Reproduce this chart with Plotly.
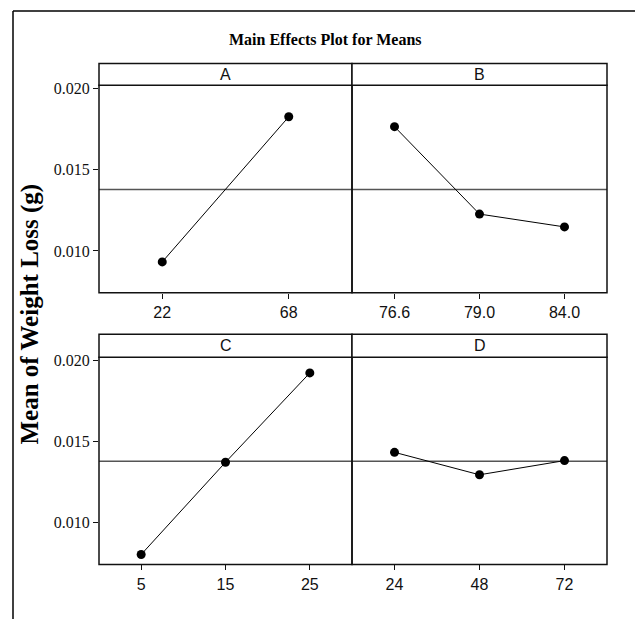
import plotly.graph_objects as go

# ---- data ----
factor_names = ["A", "B", "C", "D"]
A_levels = ["22", "68"]
A_means = [0.00933, 0.01825]
B_levels = ["76.6", "79.0", "84.0"]
B_means = [0.01764, 0.01227, 0.01148]
C_levels = ["5", "15", "25"]
C_means = [0.00805, 0.01372, 0.01921]
D_levels = ["24", "48", "72"]
D_means = [0.01433, 0.01295, 0.01382]
grand_mean = 0.01378
y_tickvals = [0.010, 0.015, 0.020]
y_ticktext = ["0.010", "0.015", "0.020"]
title_text = "Main Effects Plot for Means"
ytitle_text = "Mean of Weight Loss (g)"

W, H = 635, 619
def px(x):
    return x / W
def py(y):
    return 1 - y / H

col_dom = [[px(99), px(352)], [px(352), px(607)]]
row_plot = [[py(290), py(81)], [py(564), py(355)]]
row_strip = [[py(81), py(59)], [py(355), py(332)]]
y_range = [0.00744, 0.02018]

SERIF = "Liberation Serif, Times New Roman, serif"
SANS = "Liberation Sans, Arial, sans-serif"
EDGE = "#111"

panels = [
    (A_levels, A_means, 0, 0),
    (B_levels, B_means, 0, 1),
    (C_levels, C_means, 1, 0),
    (D_levels, D_means, 1, 1),
]

fig = go.Figure()
shapes = []
annotations = []
layout = {}
for i, (levels, means, r, c) in enumerate(panels):
    k = "" if i == 0 else str(i + 1)
    fig.add_trace(go.Scatter(
        x=levels, y=means, xaxis="x" + k, yaxis="y" + k,
        mode="lines+markers",
        line=dict(color="black", width=1),
        marker=dict(color="black", size=9, symbol="circle"),
        showlegend=False, hoverinfo="skip", cliponaxis=False,
    ))
    layout["xaxis" + k] = dict(
        domain=col_dom[c], anchor="y" + k, type="category",
        categoryorder="array", categoryarray=levels,
        range=[-0.5, len(levels) - 0.5],
        showline=False,
        ticks="outside", ticklen=5, tickwidth=1, tickcolor=EDGE,
        tickfont=dict(family=SANS, size=16, color="#111"),
        showgrid=False, zeroline=False, fixedrange=True,
    )
    ya = dict(
        domain=row_plot[r], anchor="x" + k, range=y_range,
        showline=False,
        showgrid=False, zeroline=False, fixedrange=True,
        tickvals=y_tickvals, ticktext=y_ticktext,
    )
    if c == 0:
        ya.update(ticks="outside", ticklen=5, tickwidth=1, tickcolor=EDGE,
                  tickfont=dict(family=SERIF, size=16, color="#111"),
                  showticklabels=True)
    else:
        ya.update(ticks="", showticklabels=False)
    layout["yaxis" + k] = ya
    # grand mean reference line
    shapes.append(dict(type="line", xref="x" + k + " domain", x0=0, x1=1,
                       yref="y" + k, y0=grand_mean, y1=grand_mean,
                       line=dict(color="#555", width=1.5), layer="below"))
    # panel frame
    shapes.append(dict(type="rect", xref="paper", yref="paper",
                       x0=col_dom[c][0], x1=col_dom[c][1],
                       y0=row_plot[r][0], y1=row_plot[r][1],
                       line=dict(color=EDGE, width=1.5)))
    # strip
    shapes.append(dict(type="rect", xref="paper", yref="paper",
                       x0=col_dom[c][0], x1=col_dom[c][1],
                       y0=row_strip[r][0], y1=row_strip[r][1],
                       line=dict(color=EDGE, width=1.5), fillcolor="white"))
    annotations.append(dict(text=factor_names[i], xref="paper", yref="paper",
                            x=(col_dom[c][0] + col_dom[c][1]) / 2,
                            y=(row_strip[r][0] + row_strip[r][1]) / 2,
                            showarrow=False, xanchor="center", yanchor="middle",
                            font=dict(family=SANS, size=16, color="#111")))

# outer frame (top and left edges)
shapes.append(dict(type="line", xref="paper", yref="paper",
                   x0=px(13), x1=1.02, y0=py(6), y1=py(6),
                   line=dict(color="black", width=1.5)))
shapes.append(dict(type="line", xref="paper", yref="paper",
                   x0=px(13), x1=px(13), y0=-0.02, y1=py(6),
                   line=dict(color="black", width=1.5)))

annotations.append(dict(text="<b>" + title_text + "</b>", xref="paper", yref="paper",
                        x=px(325), y=py(35), showarrow=False,
                        xanchor="center", yanchor="middle",
                        font=dict(family=SERIF, size=16, color="black")))
annotations.append(dict(text="<b>" + ytitle_text + "</b>", xref="paper", yref="paper",
                        x=px(30), y=py(312), showarrow=False, textangle=-90,
                        xanchor="center", yanchor="middle",
                        font=dict(family=SERIF, size=25, color="black")))

fig.update_layout(
    width=W, height=H,
    margin=dict(l=0, r=0, t=0, b=0, pad=0),
    paper_bgcolor="white", plot_bgcolor="white",
    shapes=shapes, annotations=annotations,
    **layout,
)
fig.write_html(
    "out.html",
    config={"displayModeBar": False, "staticPlot": True},
    post_script="document.body.style.margin='0';document.body.style.overflow='hidden';",
)
